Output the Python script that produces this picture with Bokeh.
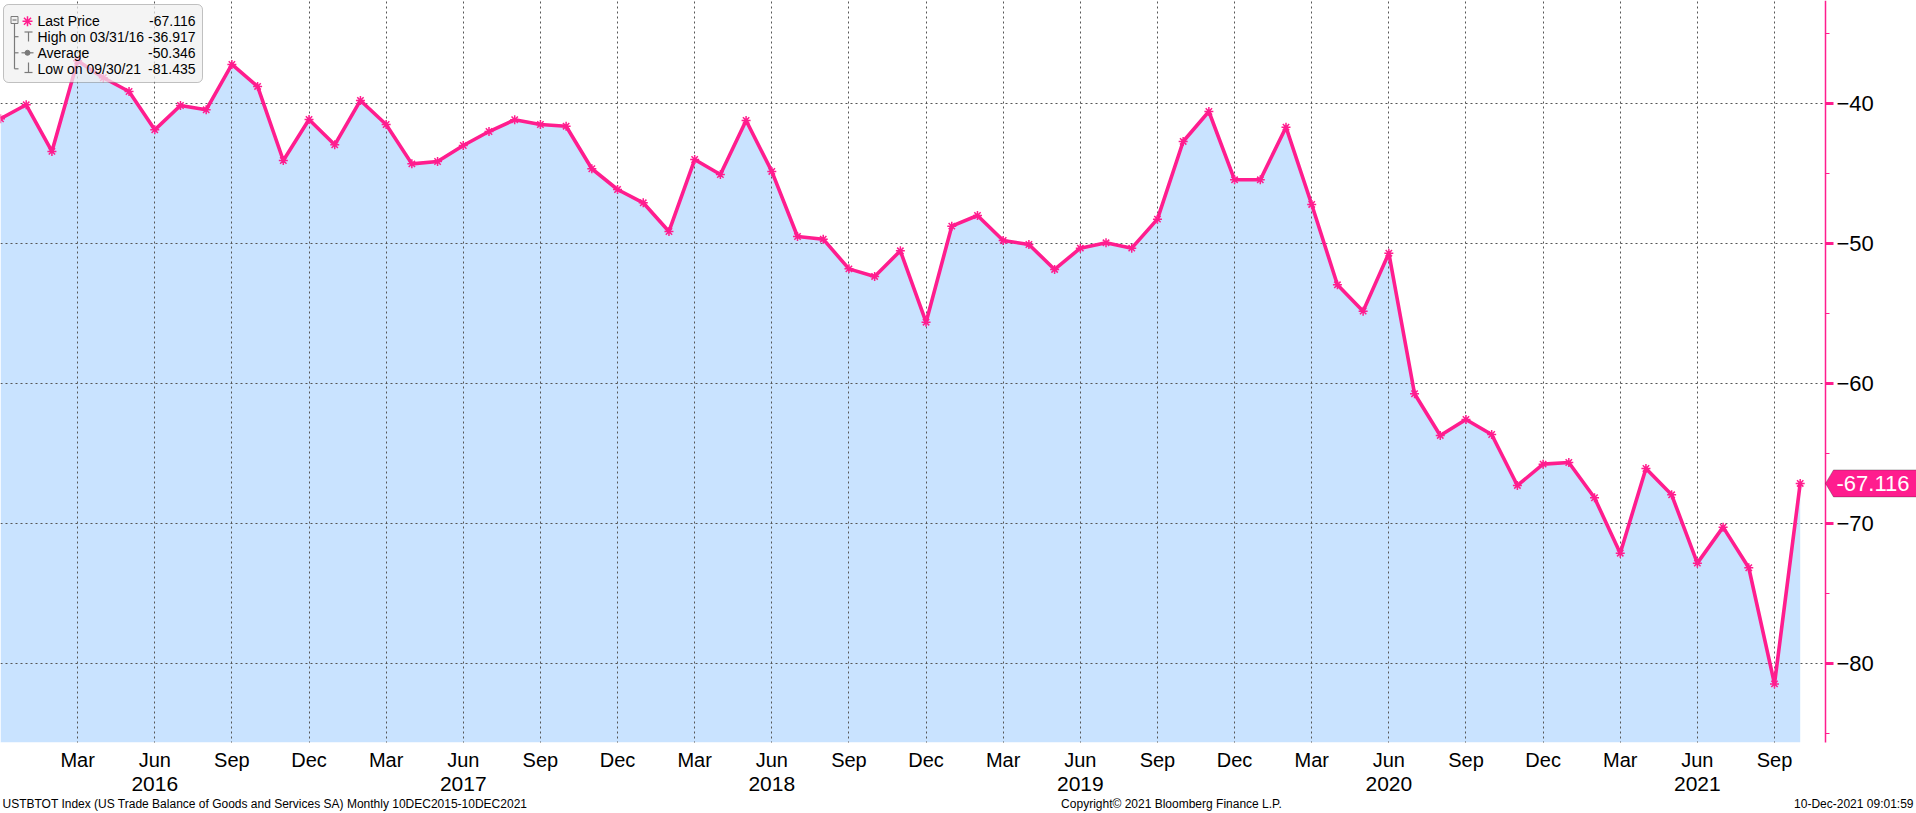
import numpy as np
from bokeh.plotting import figure
from bokeh.models import (Range1d, LinearAxis, FixedTicker, Label, BoxAnnotation,
                          PolyAnnotation, ColumnDataSource)
from bokeh.embed import file_html
from bokeh.resources import INLINE

# ---------------- data ----------------
start_year = 2015
start_month = 12
month_abbr = ["Jan", "Feb", "Mar", "Apr", "May", "Jun",
              "Jul", "Aug", "Sep", "Oct", "Nov", "Dec"]

# US Trade Balance of Goods and Services SA (USD bn), monthly Dec-2015 .. Oct-2021
values = [
    -41.07, -40.07, -43.40, -36.917, -38.14, -39.12, -41.86, -40.12, -40.43, -37.19,
    -38.76, -44.05, -41.12, -42.93, -39.76, -41.48, -44.29, -44.12, -42.98, -41.98,
    -41.14, -41.48, -41.60, -44.64, -46.12, -47.07, -49.12, -43.98, -45.05, -41.19,
    -44.83, -49.48, -49.67, -51.79, -52.33, -50.50, -55.60, -48.74, -47.98, -49.76,
    -50.05, -51.83, -50.31, -49.93, -50.31, -48.24, -42.69, -40.55, -45.43, -45.43,
    -41.67, -47.19, -52.93, -54.81, -50.67, -60.71, -63.69, -62.55, -63.62, -67.26,
    -65.74, -65.62, -68.14, -72.10, -66.05, -67.93, -72.81, -70.24, -73.14, -81.435,
    -67.116,
]

y_ticks = [-80, -70, -60, -50, -40]
y_minor_ticks = [-85, -75, -65, -55, -45, -35]

legend_labels = ["Last Price", "High on 03/31/16", "Average", "Low on 09/30/21"]
legend_values = ["-67.116", "-36.917", "-50.346", "-81.435"]

footer_left = "USTBTOT Index (US Trade Balance of Goods and Services SA)  Monthly 10DEC2015-10DEC2021"
footer_mid = "Copyright\u00a9 2021 Bloomberg Finance L.P."
footer_right = "10-Dec-2021 09:01:59"

# ---------------- derived ----------------
n = len(values)
idx = list(range(n))
month_of = [(start_month - 1 + i) % 12 + 1 for i in idx]
year_of = [start_year + (start_month - 1 + i) // 12 for i in idx]
month_ticks = [i for i in idx if month_of[i] in (3, 6, 9, 12) and i > 0]
month_tick_labels = {i: month_abbr[month_of[i] - 1] for i in month_ticks}
year_ticks = [i for i in idx if month_of[i] == 6]
year_tick_labels = {i: str(year_of[i]) for i in year_ticks}

# ---------------- styling / layout ----------------
MAG = "#ff1d8e"
FILL = "#c9e3ff"
GRID = "#555555"
FONT = "Liberation Sans"

W, H = 1916, 813          # canvas == frame
SP = 25.71                # px per month
PX = 14.0                 # px per unit of y
x_start, x_end = 0.0, W / SP
y_top = -40 + 103.3 / PX
y_bottom = y_top - H / PX
axis_x = 1825 / SP                    # right value axis position (data x)
plot_bottom = y_top - 742 / PX        # bottom of the plotting area (data y)

p = figure(width=W, height=H, title=None,
           x_range=Range1d(x_start, x_end), y_range=Range1d(y_bottom, y_top),
           output_backend="svg", toolbar_location=None,
           y_axis_location="right", x_axis_location="below",
           min_border_left=0, min_border_top=0, min_border_right=0, min_border_bottom=0)
p.outline_line_color = None
p.background_fill_color = "white"
p.border_fill_color = "white"

src = ColumnDataSource(dict(x=idx, y=values))

# area under the series
p.varea(x="x", y1="y", y2=plot_bottom, source=src, fill_color=FILL, level="image")

# white masks outside the plotting area (hide grid lines there)
p.quad(left=[axis_x, x_start], right=[x_end + 1, x_end + 1],
       bottom=[y_bottom - 1, y_bottom - 1], top=[y_top + 1, plot_bottom],
       fill_color="white", line_color=None, level="glyph")

# line + markers
p.line(x="x", y="y", source=src, line_color=MAG, line_width=3.6)
p.scatter(x="x", y="y", source=src, marker="asterisk", size=9, line_color=MAG, line_width=1.5)

# x axis (months)
xa = p.xaxis[0]
xa.fixed_location = plot_bottom
xa.ticker = FixedTicker(ticks=month_ticks, minor_ticks=[])
xa.major_label_overrides = month_tick_labels
xa.axis_line_color = None
xa.major_tick_line_color = None
xa.minor_tick_line_color = None
xa.major_label_standoff = 0
xa.major_label_text_font = FONT
xa.major_label_text_font_size = "20px"
xa.major_label_text_color = "black"

# x axis (years)
year_axis = LinearAxis(ticker=FixedTicker(ticks=year_ticks, minor_ticks=[]),
                       major_label_overrides=year_tick_labels, fixed_location=plot_bottom,
                       axis_line_color=None, major_tick_line_color=None,
                       minor_tick_line_color=None, major_label_standoff=28,
                       major_label_text_font=FONT, major_label_text_font_size="21px",
                       major_label_text_color="black")
p.add_layout(year_axis, "below")

# y axis (right)
yax = p.yaxis[0]
yax.fixed_location = axis_x
yax.bounds = (plot_bottom, y_top)
yax.ticker = FixedTicker(ticks=y_ticks, minor_ticks=y_minor_ticks)
yax.axis_line_color = MAG
yax.axis_line_width = 1.5
yax.major_tick_line_color = MAG
yax.major_tick_line_width = 3
yax.major_tick_in = 0
yax.major_tick_out = 8
yax.minor_tick_line_color = MAG
yax.minor_tick_line_width = 1
yax.minor_tick_in = 0
yax.minor_tick_out = 4
yax.major_label_standoff = 3
yax.major_label_text_font = FONT
yax.major_label_text_font_size = "22px"
yax.major_label_text_color = "black"

# grids
for g in (p.xgrid, p.ygrid):
    g.grid_line_color = GRID
    g.grid_line_dash = "2 3"
    g.grid_line_width = 1
    g.level = "underlay"

# ---------------- last price tag ----------------
last = values[-1]
half = 13.5 / PX
tip = 8 / SP
tag = PolyAnnotation(xs=[axis_x, axis_x + tip, x_end + 1, x_end + 1, axis_x + tip],
                     ys=[last, last + half, last + half, last - half, last - half],
                     xs_units="data", ys_units="data",
                     fill_color=MAG, fill_alpha=1.0, line_color="#222222", line_width=1)
p.add_layout(tag)
p.add_layout(Label(x=axis_x + 11 / SP, y=last, x_units="data", y_units="data",
                   text=f"{last:.3f}", text_color="white", text_font=FONT,
                   text_font_size="22px", text_baseline="middle", text_align="left"))

# ---------------- legend box ----------------
box = BoxAnnotation(left=3, right=202, top=H - 4, bottom=H - 82,
                    left_units="screen", right_units="screen",
                    top_units="screen", bottom_units="screen",
                    fill_color="#f0f0f0", fill_alpha=0.72,
                    line_color="#3a3a3a", line_width=1, border_radius=5)
p.add_layout(box)

rows_y = [20.7, 36.2, 52.3, 68.3]
for lab, val, ry in zip(legend_labels, legend_values, rows_y):
    p.add_layout(Label(x=37, y=H - ry, x_units="screen", y_units="screen", text=lab,
                       text_font=FONT, text_font_size="14px", text_color="black",
                       text_baseline="middle", text_align="left"))
    p.add_layout(Label(x=195, y=H - ry, x_units="screen", y_units="screen", text=val,
                       text_font=FONT, text_font_size="14px", text_color="black",
                       text_baseline="middle", text_align="right"))


def dx(sx):
    return x_start + sx / SP


def dy(sy):
    return y_top - sy / PX


ICON = "#7a7a7a"
p.rect(x=[dx(14)], y=[dy(19.5)], width=7, height=7, width_units="screen",
       height_units="screen", fill_color="#f0f0f0", line_color=ICON, level="overlay")
seg_x0 = [12, 14, 14, 14, 14, 24, 28, 21, 28, 24]
seg_y0 = [19.5, 23, 36.2, 52.3, 68.3, 31.5, 31.5, 52.3, 62, 72]
seg_x1 = [16, 14, 18, 18, 18, 32, 28, 33, 28, 32]
seg_y1 = [19.5, 68.3, 36.2, 52.3, 68.3, 31.5, 41, 52.3, 72, 72]
p.segment(x0=[dx(v) for v in seg_x0], y0=[dy(v) for v in seg_y0],
          x1=[dx(v) for v in seg_x1], y1=[dy(v) for v in seg_y1],
          line_color=ICON, line_width=1.2, level="overlay")
p.scatter(x=[dx(27)], y=[dy(52.3)], marker="circle", size=5, fill_color=ICON,
          line_color=ICON, level="overlay")
p.scatter(x=[dx(27)], y=[dy(20.7)], marker="asterisk", size=10, line_color=MAG,
          line_width=1.5, level="overlay")

# ---------------- footer ----------------
fy = 3
p.add_layout(Label(x=2, y=fy, x_units="screen", y_units="screen", text=footer_left,
                   text_font=FONT, text_font_size="12px", text_color="black",
                   text_baseline="bottom", text_align="left"))
p.add_layout(Label(x=1171, y=fy, x_units="screen", y_units="screen", text=footer_mid,
                   text_font=FONT, text_font_size="12px", text_color="black",
                   text_baseline="bottom", text_align="center"))
p.add_layout(Label(x=W - 3, y=fy, x_units="screen", y_units="screen", text=footer_right,
                   text_font=FONT, text_font_size="12px", text_color="black",
                   text_baseline="bottom", text_align="right"))

open("out.html", "w").write(file_html(p, INLINE))
